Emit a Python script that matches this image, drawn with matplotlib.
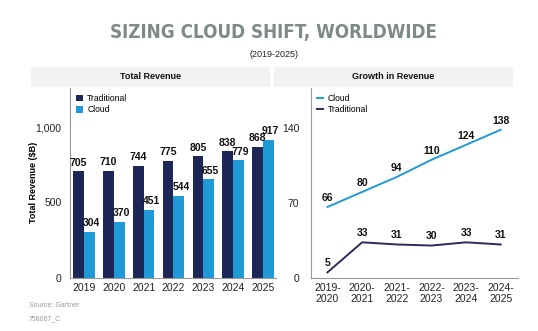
import matplotlib
matplotlib.use("Agg")
import matplotlib.pyplot as plt
from matplotlib.patches import Rectangle
from matplotlib.lines import Line2D
import numpy as np

plt.rcParams['font.family'] = ['Liberation Sans', 'DejaVu Sans']

# data
years = ['2019', '2020', '2021', '2022', '2023', '2024', '2025']
traditional = [705, 710, 744, 775, 805, 838, 868]
cloud = [304, 370, 451, 544, 655, 779, 917]

periods = ['2019-\n2020', '2020-\n2021', '2021-\n2022', '2022-\n2023', '2023-\n2024', '2024-\n2025']
cloud_growth = [66, 80, 94, 110, 124, 138]
trad_growth = [5, 33, 31, 30, 33, 31]

NAVY = '#1c2757'
BLUE = '#1f9ad6'
LINE_NAVY = '#2c2a5c'
GRAY = '#999999'

W, H = 538, 331
fig = plt.figure(figsize=(W / 100, H / 100), dpi=100)


def box(l, t, r, b):
    # pixel box -> figure fraction [left, bottom, width, height]
    return [l / W, 1 - b / H, (r - l) / W, (b - t) / H]


# title
fig.text(274 / W, 1 - 32.5 / H, 'SIZING CLOUD SHIFT, WORLDWIDE',
         family='DejaVu Sans', stretch='condensed', weight='bold',
         fontsize=13.5, color='#7d8a85', ha='center', va='center')
fig.text(274 / W, 1 - 54.5 / H, '(2019-2025)', fontsize=6.5, color='#222222',
         ha='center', va='center')

# header bands
for (l, r, label) in [(31, 269, 'Total Revenue'), (274, 512, 'Growth in Revenue')]:
    fig.patches.append(Rectangle((l / W, 1 - 86 / H), (r - l) / W, 19 / H,
                                 transform=fig.transFigure, color='#f1f2f3', zorder=0))
    fig.text((l + r) / 2 / W, 1 - 76.5 / H, label, fontsize=6.5, weight='bold',
             color='#111111', ha='center', va='center')

# left: total revenue bars
ax1 = fig.add_axes(box(70, 88, 276, 277.7))
x = np.arange(len(years))
bw = 0.36
b1 = ax1.bar(x - bw / 2, traditional, bw, color=NAVY, label='Traditional')
b2 = ax1.bar(x + bw / 2, cloud, bw, color=BLUE, label='Cloud')
for bars, vals, dx in [(b1, traditional, 0), (b2, cloud, 1.5)]:
    for rect, v in zip(bars, vals):
        ax1.annotate(str(v), (rect.get_x() + rect.get_width() / 2, v),
                     xytext=(dx, 2.5), textcoords='offset points', ha='center',
                     va='bottom', fontsize=7.5, weight='bold', color='#111111')
ax1.set_xlim(-0.47, 6.44)
ax1.set_ylim(0, 1259)
ax1.set_xticks(x)
ax1.set_xticklabels(years)
ax1.set_yticks([0, 500, 1000])
ax1.set_yticklabels(['0', '500', '1,000'])
ax1.set_ylabel('Total Revenue ($B)', fontsize=6.5, weight='bold', labelpad=-2)
ax1.legend(loc='upper left', bbox_to_anchor=(0.0, 1.0), frameon=False,
           fontsize=6.2, handlelength=0.8, handleheight=0.8, handletextpad=0.5,
           labelspacing=0.28, borderaxespad=0.3)

# right: growth lines
ax2 = fig.add_axes(box(310.5, 88, 518, 277.7))
xp = np.arange(len(periods))
ax2.plot(xp, cloud_growth, color=BLUE, lw=1.4)
ax2.plot(xp, trad_growth, color=LINE_NAVY, lw=1.4)
for vals in (cloud_growth, trad_growth):
    for xi, v in zip(xp, vals):
        ax2.annotate(str(v), (xi, v), xytext=(0, 3), textcoords='offset points',
                     ha='center', va='bottom', fontsize=7.5, weight='bold',
                     color='#111111')
ax2.set_xlim(-0.49, 5.5)
ax2.set_ylim(0, 177)
ax2.set_xticks(xp)
ax2.set_xticklabels(periods, linespacing=1.05)
ax2.set_yticks([0, 70, 140])
handles = [Line2D([], [], color=BLUE, lw=1.4), Line2D([], [], color=LINE_NAVY, lw=1.4)]
ax2.legend(handles, ['Cloud', 'Traditional'], loc='upper left',
           bbox_to_anchor=(0.0, 1.0), frameon=False, fontsize=6.2,
           handlelength=0.8, handletextpad=0.5, labelspacing=0.28,
           borderaxespad=0.3)

for ax in (ax1, ax2):
    for s in ('top', 'right'):
        ax.spines[s].set_visible(False)
    for s in ('left', 'bottom'):
        ax.spines[s].set_color(GRAY)
        ax.spines[s].set_linewidth(0.8)
    ax.tick_params(length=0, labelsize=7.5, colors='#222222', pad=4)
ax1.tick_params(axis='y', pad=6)
ax2.tick_params(axis='y', pad=8)

fig.text(29 / W, 1 - 305.5 / H, 'Source: Gartner', fontsize=5, color='#999999',
         ha='left', va='center')
fig.text(29 / W, 1 - 319 / H, '758067_C', fontsize=5, color='#999999',
         ha='left', va='center')

fig.savefig('out.png', dpi=100)
